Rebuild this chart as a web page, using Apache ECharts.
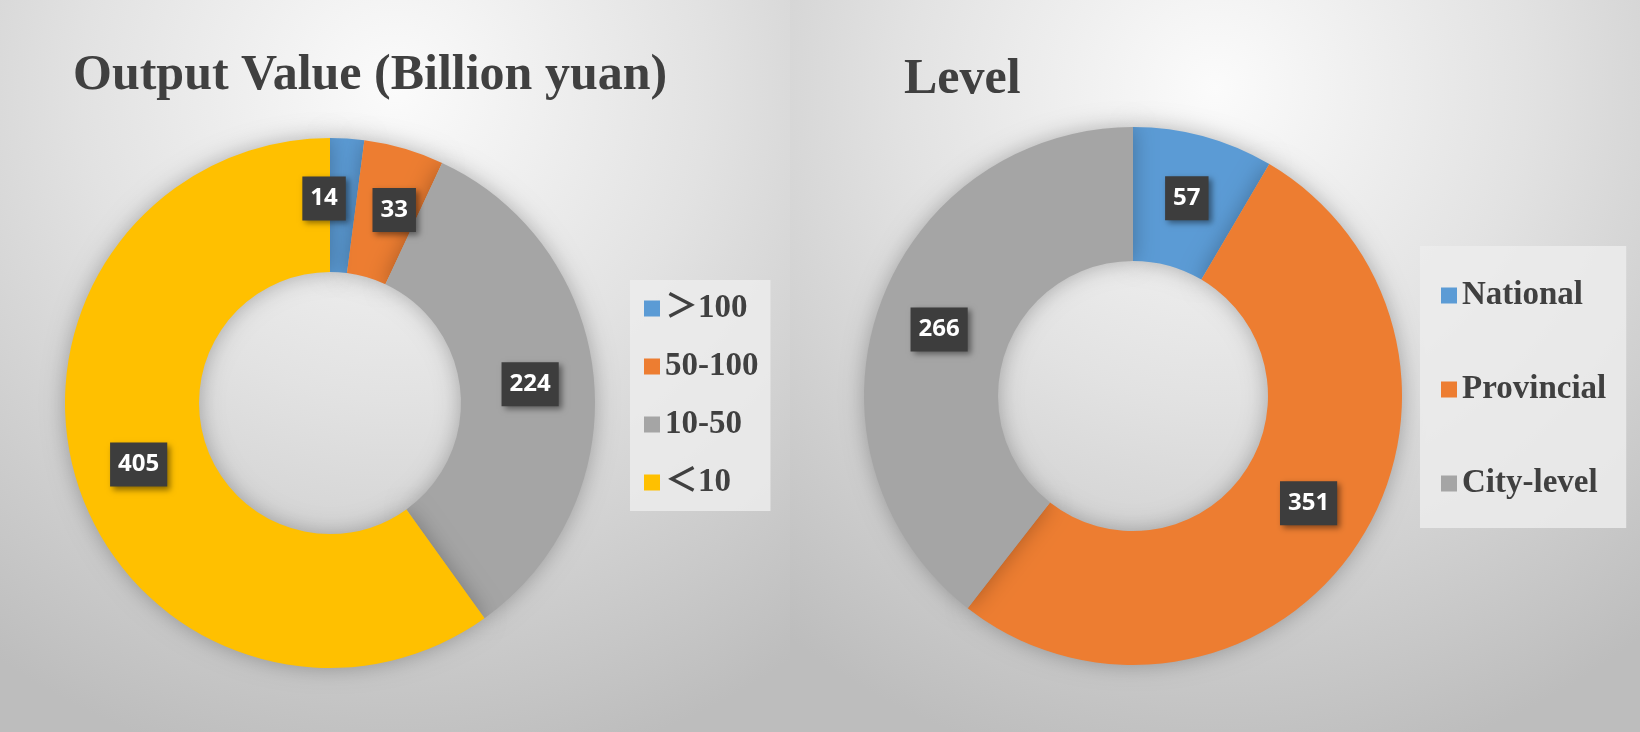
<!DOCTYPE html>
<html>
<head>
<meta charset="utf-8">
<title>Output Value / Level</title>
<script src="https://cdn.jsdelivr.net/npm/echarts@6/dist/echarts.min.js"></script>
<style>
  html, body { margin: 0; padding: 0; }
  #main { width: 1640px; height: 732px; }
</style>
</head>
<body>
<div id="main"></div>
<script>
// output value groups (billion yuan)
const valueNames = ['＞100', '50-100', '10-50', '＜10'];
const valueCounts = [14, 33, 224, 405];

// level groups
const levelNames = ['National', 'Provincial', 'City-level'];
const levelCounts = [57, 351, 266];

const colors = ['#5B9BD5', '#ED7D31', '#A5A5A5', '#FFC000'];

const chart = echarts.init(document.getElementById('main'));

const serif = "'Liberation Serif', 'Times New Roman', 'Noto Sans CJK SC', serif";

const labelStyle = {
    show: true,
    position: 'inside',
    formatter: '{c}',
    color: '#fff',
    fontFamily: "'Open Sans', sans-serif",
    fontWeight: 'bold',
    fontSize: 24,
    lineHeight: 24,
    backgroundColor: '#3d3d3d',
    padding: [10, 8, 10, 8],
    shadowColor: 'rgba(0,0,0,0.45)',
    shadowBlur: 6,
    shadowOffsetX: 3,
    shadowOffsetY: 3
};

function makeData(names, counts) {
    return names.map((n, i) => ({ name: n, value: counts[i] }));
}

const leftData = makeData(valueNames, valueCounts);
// small slice labels are nudged the way the original sits
leftData[0].label = { offset: [-19, -4] };
leftData[1].label = { offset: [8, 0] };
const rightData = makeData(levelNames, levelCounts);
rightData[1].label = { offset: [6, -8] };

function bgPanel(x, w) {
    return {
        type: 'rect',
        z: -10,
        shape: { x: x, y: 0, width: w, height: 732 },
        style: {
            fill: new echarts.graphic.RadialGradient(0.5, 0.12, 0.95, [
                { offset: 0, color: '#fbfbfb' },
                { offset: 0.45, color: '#e2e2e2' },
                { offset: 1, color: '#bdbdbd' }
            ])
        },
        silent: true
    };
}

const option = {
    backgroundColor: '#d8d8d8',
    color: colors,
    animation: false,
    graphic: [bgPanel(0, 790), bgPanel(790, 850)],
    title: [
        {
            text: 'Output Value (Billion yuan)',
            left: 68,
            top: 46,
            textStyle: { fontFamily: serif, fontWeight: 'bold', fontSize: 50, color: '#404040' }
        },
        {
            text: 'Level',
            left: 899,
            top: 50,
            textStyle: { fontFamily: serif, fontWeight: 'bold', fontSize: 50, color: '#404040' }
        }
    ],
    legend: [
        {
            data: valueNames,
            orient: 'vertical',
            left: 630,
            top: 280,
            padding: [12, 12, 12, 14],
            backgroundColor: 'rgba(236,236,236,0.85)',
            icon: 'rect',
            itemWidth: 16,
            itemHeight: 16,
            itemGap: 25,
            selectedMode: false,
            textStyle: { fontFamily: serif, fontWeight: 'bold', fontSize: 33, lineHeight: 32, color: '#404040' }
        },
        {
            data: levelNames,
            orient: 'vertical',
            left: 1420,
            top: 246,
            padding: [33, 20, 28, 21],
            backgroundColor: 'rgba(236,236,236,0.85)',
            icon: 'rect',
            itemWidth: 16,
            itemHeight: 16,
            itemGap: 61,
            selectedMode: false,
            textStyle: { fontFamily: serif, fontWeight: 'bold', fontSize: 33, lineHeight: 32, color: '#404040' }
        }
    ],
    series: [
        {
            type: 'pie',
            center: [330, 403],
            radius: [131, 265],
            startAngle: 90,
            clockwise: true,
            avoidLabelOverlap: false,
            label: labelStyle,
            labelLine: { show: false },
            itemStyle: { shadowBlur: 22, shadowColor: 'rgba(0,0,0,0.28)' },
            emphasis: { disabled: true },
            data: leftData
        },
        {
            type: 'pie',
            center: [1133, 396],
            radius: [135, 269],
            startAngle: 90,
            clockwise: true,
            avoidLabelOverlap: false,
            label: labelStyle,
            labelLine: { show: false },
            itemStyle: { shadowBlur: 22, shadowColor: 'rgba(0,0,0,0.28)' },
            emphasis: { disabled: true },
            data: rightData
        }
    ]
};

chart.setOption(option);
</script>
</body>
</html>
